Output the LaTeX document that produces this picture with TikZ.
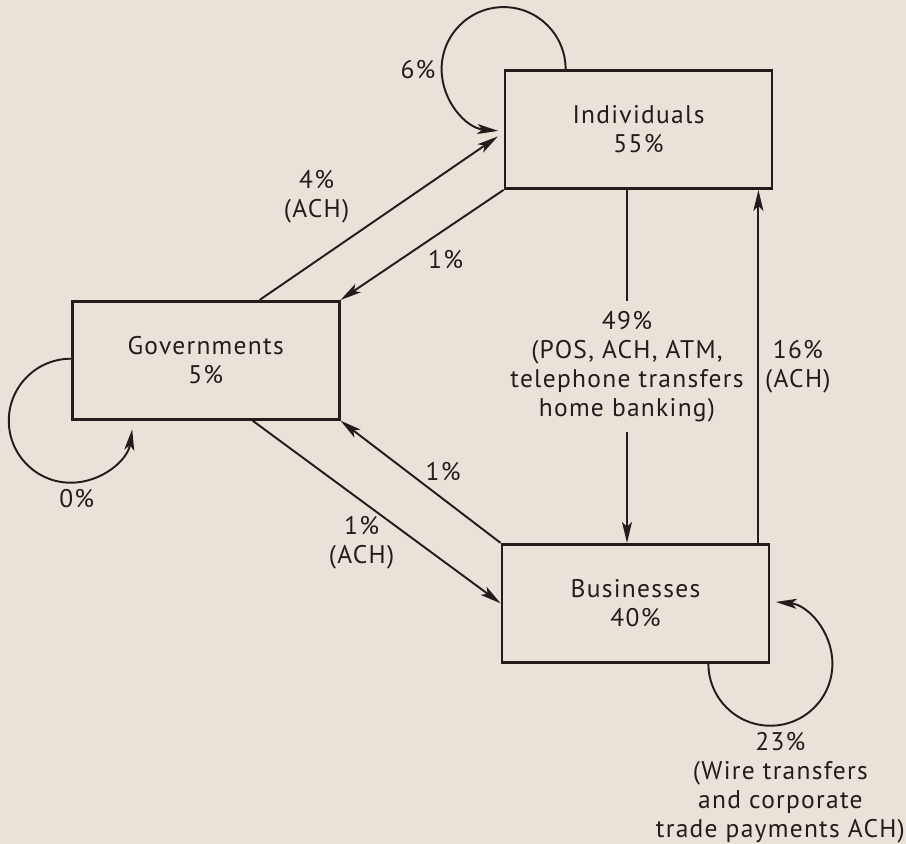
\documentclass[tikz,border=0pt]{standalone}
\usepackage{fontspec}
\setmainfont[LetterSpace=5]{PT Sans}
\usepackage{xcolor}
\usepackage{tikz}
\usetikzlibrary{arrows.meta, positioning}
\definecolor{paper}{RGB}{234,225,216}
\definecolor{ink}{RGB}{35,28,28}

\begin{document}
\begin{tikzpicture}[
    font=\fontsize{14.5}{16.5}\selectfont,
    color=ink,
    box/.style={rectangle, draw, line width=1.6pt, minimum width=5.34cm, minimum height=2.36cm, align=center},
    arrow/.style={->, line width=1.1pt, >={Stealth[length=0.42cm, width=0.2cm, inset=0.1cm]}},
    lbl/.style={align=center}
]

% page
\fill[paper] (0,0) rectangle (18.12,-16.88);
\useasboundingbox (0,0) rectangle (18.12,-16.88);

% Sectors
\node[box] (indiv) at (12.77,-2.59) {Individuals\\55\%};
\node[box, below left=2.2cm and 3.26cm of indiv] (gov) {Governments\\5\%};
\node[box, below=7.06cm of indiv, xshift=-0.06cm] (bus) {Businesses\\40\%};

% Flows between sectors
\draw[arrow, shorten >=0.14cm] ([xshift=1.08cm]gov.north) -- ([yshift=-0.06cm]indiv.west) node[lbl, midway, xshift=-1.3cm, yshift=0.38cm] {4\%\\(ACH)};
\draw[arrow] (indiv.south west) -- (gov.north east) node[lbl, midway, xshift=0.47cm, yshift=-0.3cm] {1\%};
\draw[arrow] (bus.north west) -- (gov.south east) node[lbl, midway, xshift=0.45cm, yshift=0.2cm] {1\%};
\draw[arrow] ([xshift=0.94cm]gov.south) -- (bus.west) node[lbl, midway, xshift=-0.3cm, yshift=-0.61cm] {1\%\\(ACH)};
\draw[arrow] ([xshift=-0.23cm]indiv.south) -- ([xshift=-0.23cm]indiv.south |- bus.north) node[lbl, midway, fill=paper, inner sep=0.2cm] {49\%\\(POS, ACH, ATM,\\telephone transfers\\home banking)};
\draw[arrow] ([xshift=-0.3cm]indiv.south east |- bus.north) -- ([xshift=-0.3cm]indiv.south east) node[lbl, midway, right] {16\%\\(ACH)};

% Flows within a sector
\draw[arrow] ([xshift=1.24cm]indiv.north west) arc[start angle=0, end angle=265, radius=1.24cm];
\node[lbl, left] (loopi) at ([xshift=-1.24cm]indiv.north west) {6\%};
\draw[arrow] ([yshift=1.24cm]gov.south west) arc[start angle=90, end angle=352, radius=1.24cm];
\node[lbl, below, xshift=0.12cm] (loopg) at ([yshift=-1.24cm]gov.south west) {0\%};
\draw[arrow] ([xshift=-1.24cm]bus.south east) arc[start angle=180, end angle=445, radius=1.24cm];
\node[lbl, below, xshift=0.2cm] (loopb) at ([yshift=-1.24cm]bus.south east) {23\%\\(Wire transfers\\and corporate\\trade payments ACH)};

\end{tikzpicture}
\end{document}
